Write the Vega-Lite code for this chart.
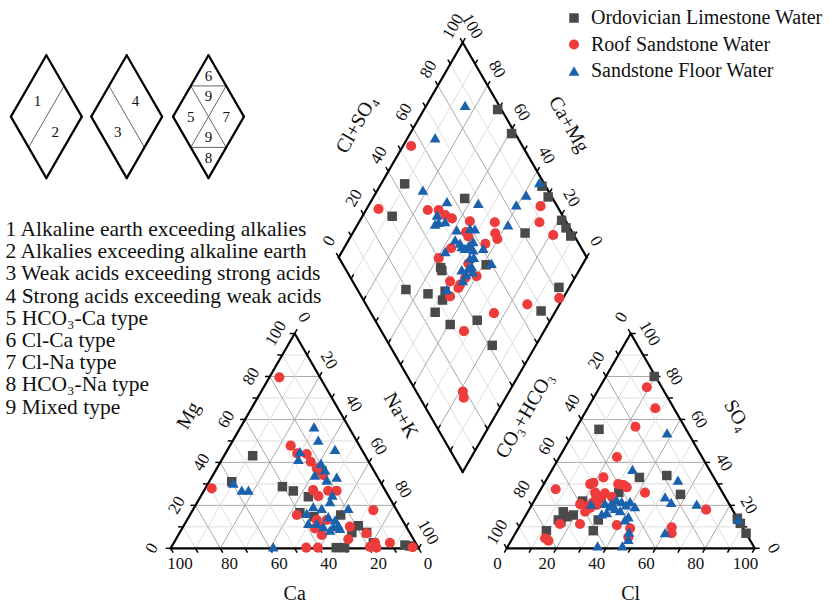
{
"$schema":"https://vega.github.io/schema/vega-lite/v6.json",
"width":836,"height":605,"autosize":{"type":"none"},"padding":0,"background":"#ffffff",
"config":{"view":{"stroke":null},"font":"Liberation Serif",
 "legend":{"orient":"none","legendX":564,"legendY":8,"padding":0,"labelFont":"Liberation Serif","labelFontSize":20,"labelLimit":0,"labelColor":"#111111","symbolSize":110,"rowPadding":6.5,"labelOffset":7}},
"datasets":{
"cation":[
{"w":"O","Ca":45.4,"Mg":43.1},{"w":"O","Ca":59.9,"Mg":31.0},{"w":"O","Ca":40.6,"Mg":28.7},{"w":"O","Ca":37.2,"Mg":26.7},{"w":"O","Ca":32.5,"Mg":24.0},{"w":"O","Ca":21.0,"Mg":36.1},{"w":"O","Ca":39.6,"Mg":16.6},{"w":"O","Ca":34.9,"Mg":14.7},{"w":"O","Ca":23.7,"Mg":15.5},{"w":"O","Ca":19.1,"Mg":10.5},{"w":"O","Ca":23.3,"Mg":7.3},{"w":"O","Ca":33.1,"Mg":0.3},{"w":"O","Ca":29.7,"Mg":0.3},{"w":"O","Ca":17.0,"Mg":2.6},{"w":"O","Ca":4.8,"Mg":1.5},{"w":"O","Ca":3.0,"Mg":1.1},{"w":"O","Ca":17.3,"Mg":7.4},
{"w":"R","Ca":16.4,"Mg":79.6},{"w":"R","Ca":69.5,"Mg":27.9},{"w":"R","Ca":27.7,"Mg":47.8},{"w":"R","Ca":26.9,"Mg":44.2},{"w":"R","Ca":23.2,"Mg":43.9},{"w":"R","Ca":23.4,"Mg":40.3},{"w":"R","Ca":22.5,"Mg":37.2},{"w":"R","Ca":21.4,"Mg":34.1},{"w":"R","Ca":29.0,"Mg":27.1},{"w":"R","Ca":28.3,"Mg":24.3},{"w":"R","Ca":23.1,"Mg":26.8},{"w":"R","Ca":19.7,"Mg":26.8},{"w":"R","Ca":41.4,"Mg":15.5},{"w":"R","Ca":34.5,"Mg":13.2},{"w":"R","Ca":34.7,"Mg":10.1},{"w":"R","Ca":37.2,"Mg":9.3},{"w":"R","Ca":36.0,"Mg":6.2},{"w":"R","Ca":9.4,"Mg":17.8},{"w":"R","Ca":22.7,"Mg":10.1},{"w":"R","Ca":26.3,"Mg":4.2},{"w":"R","Ca":17.5,"Mg":7.0},{"w":"R","Ca":16.3,"Mg":2.6},{"w":"R","Ca":10.3,"Mg":2.6},{"w":"R","Ca":45.2,"Mg":0.3},{"w":"R","Ca":40.5,"Mg":0.3},{"w":"R","Ca":19.3,"Mg":0.7},{"w":"R","Ca":16.9,"Mg":0.3},{"w":"R","Ca":2.2,"Mg":0.5},{"w":"R","Ca":30.5,"Mg":13.2},
{"w":"S","Ca":13.9,"Mg":56.6},{"w":"S","Ca":15.3,"Mg":50.4},{"w":"S","Ca":10.7,"Mg":46.1},{"w":"S","Ca":25.4,"Mg":45.0},{"w":"S","Ca":27.8,"Mg":41.4},{"w":"S","Ca":19.6,"Mg":39.6},{"w":"S","Ca":24.8,"Mg":34.1},{"w":"S","Ca":19.5,"Mg":36.5},{"w":"S","Ca":16.5,"Mg":33.1},{"w":"S","Ca":21.2,"Mg":31.8},{"w":"S","Ca":22.4,"Mg":24.8},{"w":"S","Ca":24.9,"Mg":21.7},{"w":"S","Ca":19.1,"Mg":18.6},{"w":"S","Ca":32.8,"Mg":19.4},{"w":"S","Ca":29.8,"Mg":18.6},{"w":"S","Ca":37.0,"Mg":16.3},{"w":"S","Ca":29.1,"Mg":14.7},{"w":"S","Ca":27.1,"Mg":13.2},{"w":"S","Ca":27.0,"Mg":10.8},{"w":"S","Ca":29.3,"Mg":10.1},{"w":"S","Ca":27.1,"Mg":9.3},{"w":"S","Ca":31.5,"Mg":8.5},{"w":"S","Ca":35.3,"Mg":11.6},{"w":"S","Ca":38.7,"Mg":11.6},{"w":"S","Ca":33.4,"Mg":10.1},{"w":"S","Ca":59.6,"Mg":30.3},{"w":"S","Ca":57.8,"Mg":27.1},{"w":"S","Ca":55.1,"Mg":27.1},{"w":"S","Ca":58.3,"Mg":0.7}
],
"anion":[
{"w":"O","Cl":19.5,"SO4":80.0},{"w":"O","Cl":9.5,"SO4":55.4},{"w":"O","Cl":37.0,"SO4":33.0},{"w":"O","Cl":47.6,"SO4":33.9},{"w":"O","Cl":57.5,"SO4":25.1},{"w":"O","Cl":32.2,"SO4":26.0},{"w":"O","Cl":19.6,"SO4":22.0},{"w":"O","Cl":14.3,"SO4":17.0},{"w":"O","Cl":14.2,"SO4":13.2},{"w":"O","Cl":16.9,"SO4":14.7},{"w":"O","Cl":19.1,"SO4":15.5},{"w":"O","Cl":15.6,"SO4":12.5},{"w":"O","Cl":11.9,"SO4":8.2},{"w":"O","Cl":30.8,"SO4":8.2},{"w":"O","Cl":30.3,"SO4":13.2},{"w":"O","Cl":86.0,"SO4":14.0},{"w":"O","Cl":88.4,"SO4":11.6},{"w":"O","Cl":93.0,"SO4":7.0},
{"w":"R","Cl":19.0,"SO4":75.0},{"w":"R","Cl":27.3,"SO4":65.2},{"w":"R","Cl":23.6,"SO4":56.6},{"w":"R","Cl":23.2,"SO4":42.5},{"w":"R","Cl":6.0,"SO4":27.5},{"w":"R","Cl":22.5,"SO4":33.0},{"w":"R","Cl":18.7,"SO4":29.9},{"w":"R","Cl":19.7,"SO4":30.5},{"w":"R","Cl":22.7,"SO4":25.9},{"w":"R","Cl":26.8,"SO4":25.6},{"w":"R","Cl":30.0,"SO4":29.9},{"w":"R","Cl":32.3,"SO4":29.5},{"w":"R","Cl":34.2,"SO4":28.4},{"w":"R","Cl":42.8,"SO4":25.9},{"w":"R","Cl":71.4,"SO4":18.0},{"w":"R","Cl":19.3,"SO4":20.6},{"w":"R","Cl":22.6,"SO4":19.4},{"w":"R","Cl":23.1,"SO4":17.0},{"w":"R","Cl":15.8,"SO4":11.3},{"w":"R","Cl":23.9,"SO4":11.3},{"w":"R","Cl":13.1,"SO4":4.7},{"w":"R","Cl":15.0,"SO4":3.6},{"w":"R","Cl":39.0,"SO4":10.8},{"w":"R","Cl":45.1,"SO4":9.3},{"w":"R","Cl":46.5,"SO4":5.1},{"w":"R","Cl":61.6,"SO4":9.8},{"w":"R","Cl":63.0,"SO4":7.0},{"w":"R","Cl":24.2,"SO4":23.9},{"w":"R","Cl":26.5,"SO4":23.0},{"w":"R","Cl":23.9,"SO4":21.1},{"w":"R","Cl":26.2,"SO4":20.2},{"w":"R","Cl":24.2,"SO4":18.8},{"w":"R","Cl":30.5,"SO4":23.9},
{"w":"S","Cl":37.8,"SO4":53.7},{"w":"S","Cl":32.3,"SO4":36.8},{"w":"S","Cl":53.2,"SO4":31.7},{"w":"S","Cl":51.9,"SO4":23.9},{"w":"S","Cl":55.6,"SO4":21.4},{"w":"S","Cl":66.3,"SO4":20.6},{"w":"S","Cl":86.6,"SO4":13.4},{"w":"S","Cl":60.2,"SO4":7.3},{"w":"S","Cl":36.1,"SO4":1.1},{"w":"S","Cl":46.1,"SO4":1.1},{"w":"S","Cl":46.9,"SO4":4.2},{"w":"S","Cl":45.5,"SO4":7.6},{"w":"S","Cl":23.7,"SO4":20.6},{"w":"S","Cl":29.2,"SO4":20.9},{"w":"S","Cl":31.7,"SO4":21.2},{"w":"S","Cl":33.1,"SO4":22.5},{"w":"S","Cl":35.5,"SO4":21.7},{"w":"S","Cl":38.9,"SO4":21.7},{"w":"S","Cl":42.0,"SO4":19.4},{"w":"S","Cl":30.3,"SO4":16.0},{"w":"S","Cl":32.0,"SO4":16.6},{"w":"S","Cl":34.4,"SO4":18.6},{"w":"S","Cl":37.0,"SO4":17.5},{"w":"S","Cl":41.7,"SO4":14.7},{"w":"S","Cl":41.1,"SO4":13.2},{"w":"S","Cl":31.8,"SO4":19.7},{"w":"S","Cl":38.0,"SO4":20.2}
],
"diamond":[
{"w":"O","NaK":29.7,"ClSO4":98.5},{"w":"O","NaK":40.9,"ClSO4":98.5},{"w":"O","NaK":9.5,"ClSO4":43.7},{"w":"O","NaK":37.1,"ClSO4":64.5},{"w":"O","NaK":12.0,"ClSO4":31.1},{"w":"O","NaK":65.4,"ClSO4":98.5},{"w":"O","NaK":70.4,"ClSO4":98.5},{"w":"O","NaK":81.3,"ClSO4":98.5},{"w":"O","NaK":84.8,"ClSO4":98.5},{"w":"O","NaK":88.6,"ClSO4":98.5},{"w":"O","NaK":69.5,"ClSO4":80.8},{"w":"O","NaK":43.5,"ClSO4":38.7},{"w":"O","NaK":44.7,"ClSO4":38.5},{"w":"O","NaK":61.2,"ClSO4":57.7},{"w":"O","NaK":34.6,"ClSO4":19.6},{"w":"O","NaK":44.5,"ClSO4":27.5},{"w":"O","NaK":51.8,"ClSO4":31.9},{"w":"O","NaK":50.8,"ClSO4":35.0},{"w":"O","NaK":51.7,"ClSO4":26.1},{"w":"O","NaK":60.6,"ClSO4":29.3},{"w":"O","NaK":70.5,"ClSO4":41.2},{"w":"O","NaK":94.1,"ClSO4":69.1},{"w":"O","NaK":95.8,"ClSO4":81.8},{"w":"O","NaK":82.4,"ClSO4":41.4},
{"w":"R","NaK":3.3,"ClSO4":55.1},{"w":"R","NaK":4.8,"ClSO4":27.3},{"w":"R","NaK":24.9,"ClSO4":46.9},{"w":"R","NaK":29.3,"ClSO4":51.3},{"w":"R","NaK":33.1,"ClSO4":52.8},{"w":"R","NaK":36.6,"ClSO4":54.7},{"w":"R","NaK":44.5,"ClSO4":61.3},{"w":"R","NaK":54.8,"ClSO4":71.1},{"w":"R","NaK":57.5,"ClSO4":68.7},{"w":"R","NaK":59.7,"ClSO4":68.2},{"w":"R","NaK":45.5,"ClSO4":57.2},{"w":"R","NaK":56.0,"ClSO4":62.3},{"w":"R","NaK":43.2,"ClSO4":47.4},{"w":"R","NaK":40.5,"ClSO4":40.1},{"w":"R","NaK":53.7,"ClSO4":50.8},{"w":"R","NaK":69.5,"ClSO4":93.3},{"w":"R","NaK":72.8,"ClSO4":89.1},{"w":"R","NaK":81.3,"ClSO4":91.7},{"w":"R","NaK":60.0,"ClSO4":51.2},{"w":"R","NaK":55.8,"ClSO4":46.1},{"w":"R","NaK":55.3,"ClSO4":42.6},{"w":"R","NaK":50.5,"ClSO4":39.3},{"w":"R","NaK":55.4,"ClSO4":41.1},{"w":"R","NaK":54.0,"ClSO4":35.8},{"w":"R","NaK":47.4,"ClSO4":57.1},{"w":"R","NaK":87.0,"ClSO4":65.1},{"w":"R","NaK":75.6,"ClSO4":49.6},{"w":"R","NaK":67.7,"ClSO4":33.3},{"w":"R","NaK":98.4,"ClSO4":79.4},{"w":"R","NaK":81.3,"ClSO4":18.8},{"w":"R","NaK":83.1,"ClSO4":17.7},
{"w":"S","NaK":15.6,"ClSO4":86.3},{"w":"S","NaK":11.1,"ClSO4":66.7},{"w":"S","NaK":18.3,"ClSO4":49.6},{"w":"S","NaK":30.7,"ClSO4":56.6},{"w":"S","NaK":43.7,"ClSO4":68.8},{"w":"S","NaK":29.8,"ClSO4":49.5},{"w":"S","NaK":32.1,"ClSO4":48.4},{"w":"S","NaK":31.2,"ClSO4":46.6},{"w":"S","NaK":34.6,"ClSO4":51.2},{"w":"S","NaK":41.2,"ClSO4":54.0},{"w":"S","NaK":46.2,"ClSO4":59.7},{"w":"S","NaK":48.3,"ClSO4":61.5},{"w":"S","NaK":42.9,"ClSO4":51.0},{"w":"S","NaK":45.6,"ClSO4":52.2},{"w":"S","NaK":49.7,"ClSO4":54.8},{"w":"S","NaK":48.8,"ClSO4":53.0},{"w":"S","NaK":50.0,"ClSO4":55.8},{"w":"S","NaK":52.5,"ClSO4":56.0},{"w":"S","NaK":41.6,"ClSO4":44.3},{"w":"S","NaK":56.2,"ClSO4":60.4},{"w":"S","NaK":63.0,"ClSO4":60.2},{"w":"S","NaK":60.7,"ClSO4":75.8},{"w":"S","NaK":59.4,"ClSO4":83.8},{"w":"S","NaK":61.1,"ClSO4":90.1},{"w":"S","NaK":63.5,"ClSO4":98.3},{"w":"S","NaK":53.1,"ClSO4":52.7},{"w":"S","NaK":55.7,"ClSO4":51.5},{"w":"S","NaK":54.8,"ClSO4":49.7},{"w":"S","NaK":52.5,"ClSO4":46.7},{"w":"S","NaK":55.4,"ClSO4":47.3},{"w":"S","NaK":57.4,"ClSO4":50.6},{"w":"S","NaK":55.4,"ClSO4":44.6},{"w":"S","NaK":51.1,"ClSO4":36.1},{"w":"S","NaK":54.5,"ClSO4":54.5},{"w":"S","NaK":50.6,"ClSO4":57.9},{"w":"S","NaK":47.1,"ClSO4":52.1}
],
"lines":[
{"plot":"c","f":1,"v":[0,10,20,30,40,50,60,70,80,90,100]},
{"plot":"c","f":2,"v":[0,10,20,30,40,50,60,70,80,90,100]},
{"plot":"c","f":3,"v":[0,10,20,30,40,50,60,70,80,90,100]},
{"plot":"a","f":1,"v":[0,10,20,30,40,50,60,70,80,90,100]},
{"plot":"a","f":2,"v":[0,10,20,30,40,50,60,70,80,90,100]},
{"plot":"a","f":3,"v":[0,10,20,30,40,50,60,70,80,90,100]},
{"plot":"d","f":1,"v":[0,10,20,30,40,50,60,70,80,90,100]},
{"plot":"d","f":2,"v":[0,10,20,30,40,50,60,70,80,90,100]}
],
"edges":[
{"e":"cb","t":"Ca","v":[0,10,20,30,40,50,60,70,80,90,100]},
{"e":"cl","t":"Mg","v":[0,10,20,30,40,50,60,70,80,90,100]},
{"e":"cr","t":"Na+K","v":[0,10,20,30,40,50,60,70,80,90,100]},
{"e":"ab","t":"Cl","v":[0,10,20,30,40,50,60,70,80,90,100]},
{"e":"al","t":"CO₃+HCO₃","v":[0,10,20,30,40,50,60,70,80,90,100]},
{"e":"ar","t":"SO₄","v":[0,10,20,30,40,50,60,70,80,90,100]},
{"e":"dl","t":"Cl+SO₄","v":[0,10,20,30,40,50,60,70,80,90,100]},
{"e":"dr","t":"Ca+Mg","v":[0,10,20,30,40,50,60,70,80,90,100]},
{"e":"dll","t":"","v":[0,10,20,30,40,50,60,70,80,90,100]},
{"e":"dlr","t":"","v":[0,10,20,30,40,50,60,70,80,90,100]}
],
"keys":[
{"k":[1,2,3],"kind":"o","p1":0,"q1":0,"p2":100,"q2":0},
{"k":[1,2,3],"kind":"o","p1":0,"q1":100,"p2":100,"q2":100},
{"k":[1,2,3],"kind":"o","p1":0,"q1":0,"p2":0,"q2":100},
{"k":[1,2,3],"kind":"o","p1":100,"q1":0,"p2":100,"q2":100},
{"k":[1,3],"kind":"i","p1":50,"q1":0,"p2":50,"q2":100},
{"k":[2,3],"kind":"i","p1":0,"q1":50,"p2":100,"q2":50},
{"k":[3],"kind":"i","p1":0,"q1":50,"p2":50,"q2":100},
{"k":[3],"kind":"i","p1":50,"q1":0,"p2":100,"q2":50},
{"k":[1],"kind":"t","t":"1","p1":25,"q1":50,"p2":25,"q2":50},
{"k":[1],"kind":"t","t":"2","p1":75,"q1":50,"p2":75,"q2":50},
{"k":[2],"kind":"t","t":"4","p1":50,"q1":75,"p2":50,"q2":75},
{"k":[2],"kind":"t","t":"3","p1":50,"q1":25,"p2":50,"q2":25},
{"k":[3],"kind":"t","t":"6","p1":16.7,"q1":83.3,"p2":16.7,"q2":83.3},
{"k":[3],"kind":"t","t":"9","p1":33.3,"q1":66.7,"p2":33.3,"q2":66.7},
{"k":[3],"kind":"t","t":"5","p1":25,"q1":25,"p2":25,"q2":25},
{"k":[3],"kind":"t","t":"7","p1":75,"q1":75,"p2":75,"q2":75},
{"k":[3],"kind":"t","t":"9","p1":66.7,"q1":33.3,"p2":66.7,"q2":33.3},
{"k":[3],"kind":"t","t":"8","p1":83.3,"q1":16.7,"p2":83.3,"q2":16.7}
],
"notes":[
{"t":"1 Alkaline earth exceeding alkalies\n2 Alkalies exceeding alkaline earth\n3 Weak acids exceeding strong acids\n4 Strong acids exceeding weak acids\n5 HCO₃-Ca type\n6 Cl-Ca type\n7 Cl-Na type\n8 HCO₃-Na type\n9 Mixed type"}
]
},
"layer":[
{"data":{"name":"lines"},
 "transform":[
  {"flatten":["v"]},
  {"calculate":"datum.f==1 ? 0 : datum.f==2 ? datum.v : 100-datum.v","as":"p1"},
  {"calculate":"datum.f==1 ? datum.v : 0","as":"q1"},
  {"calculate":"datum.f==1 ? (datum.plot=='d' ? 100 : 100-datum.v) : datum.f==2 ? datum.v : 0","as":"p2"},
  {"calculate":"datum.f==1 ? datum.v : (datum.f==2 && datum.plot=='d') ? 100 : 100-datum.v","as":"q2"},
  {"calculate":"datum.plot=='c' ? datum.p1+datum.q1/2 : datum.plot=='a' ? 135.5+datum.p1+datum.q1/2 : 67.75+(datum.p1+datum.q1)/2","as":"x"},
  {"calculate":"datum.plot=='d' ? 117.3425+0.8660254*(datum.q1-datum.p1) : 0.8660254*datum.q1","as":"y"},
  {"calculate":"datum.plot=='c' ? datum.p2+datum.q2/2 : datum.plot=='a' ? 135.5+datum.p2+datum.q2/2 : 67.75+(datum.p2+datum.q2)/2","as":"x2"},
  {"calculate":"datum.plot=='d' ? 117.3425+0.8660254*(datum.q2-datum.p2) : 0.8660254*datum.q2","as":"y2"}
 ],
 "layer":[
  {"transform":[{"filter":"datum.v>0 && datum.v<100"}],
   "mark":{"type":"rule","strokeWidth":1},
   "encoding":{
    "x":{"field":"x","type":"quantitative","scale":{"domain":[-68.83,268.27],"nice":false,"zero":false},"axis":null},
    "y":{"field":"y","type":"quantitative","scale":{"domain":[-22.86,221.09],"nice":false,"zero":false},"axis":null},
    "x2":{"field":"x2"},"y2":{"field":"y2"},
    "stroke":{"condition":{"test":"datum.v % 20 == 0","value":"#a9a9a9"},"value":"#dedede"}}},
  {"transform":[{"filter":"datum.v==0 || (datum.plot=='d' && datum.v==100)"}],
   "mark":{"type":"rule","strokeWidth":2.2,"color":"#000000","strokeCap":"round"},
   "encoding":{
    "x":{"field":"x","type":"quantitative","scale":{"domain":[-68.83,268.27],"nice":false,"zero":false},"axis":null},
    "y":{"field":"y","type":"quantitative","scale":{"domain":[-22.86,221.09],"nice":false,"zero":false},"axis":null},
    "x2":{"field":"x2"},"y2":{"field":"y2"}}}
 ]},
{"data":{"name":"edges"},
 "transform":[
  {"flatten":["v"]},
  {"calculate":"substring(datum.e,0,1)","as":"plot"},
  {"calculate":"indexof(['cb','ar','dr'],datum.e)>=0 ? 100-datum.v : indexof(['cr','ab','dll'],datum.e)>=0 ? datum.v : datum.e=='dlr' ? 100 : 0","as":"p"},
  {"calculate":"indexof(['cl','ar','dl','dlr'],datum.e)>=0 ? datum.v : indexof(['cr','al'],datum.e)>=0 ? 100-datum.v : datum.e=='dr' ? 100 : 0","as":"q"},
  {"calculate":"datum.plot=='c' ? datum.p+datum.q/2 : datum.plot=='a' ? 135.5+datum.p+datum.q/2 : 67.75+(datum.p+datum.q)/2","as":"x"},
  {"calculate":"datum.plot=='d' ? 117.3425+0.8660254*(datum.q-datum.p) : 0.8660254*datum.q","as":"y"},
  {"calculate":"indexof(['cb','cr','dr','dll'],datum.e)>=0 ? 0.5 : indexof(['ab','al','dl','dlr'],datum.e)>=0 ? -0.5 : datum.e=='cl' ? -1 : 1","as":"tx"},
  {"calculate":"indexof(['cb','ab'],datum.e)>=0 ? -0.8660254 : indexof(['cl','ar'],datum.e)>=0 ? 0 : 0.8660254","as":"ty"},
  {"calculate":"indexof(['cl','al','dl'],datum.e)>=0 ? -0.8660254 : indexof(['cr','ar','dr'],datum.e)>=0 ? 0.8660254 : 0","as":"nx"},
  {"calculate":"indexof(['cb','ab'],datum.e)>=0 ? -1 : 0.5","as":"ny"},
  {"calculate":"indexof(['cb','ab'],datum.e)>=0 ? 18.6 : 20.5","as":"hd"},
  {"calculate":"datum.x+2*datum.tx","as":"x2"},
  {"calculate":"datum.y+2*datum.ty","as":"y2"},
  {"calculate":"datum.x+7.5*datum.tx","as":"lx"},
  {"calculate":"datum.y+7.5*datum.ty","as":"ly"},
  {"calculate":"datum.x+datum.hd*datum.nx","as":"hx"},
  {"calculate":"datum.y+datum.hd*datum.ny","as":"hy"}
 ],
 "layer":[
  {"mark":{"type":"rule","strokeWidth":1.5,"color":"#000000"},
   "encoding":{
    "x":{"field":"x","type":"quantitative","scale":{"domain":[-68.83,268.27],"nice":false,"zero":false},"axis":null},
    "y":{"field":"y","type":"quantitative","scale":{"domain":[-22.86,221.09],"nice":false,"zero":false},"axis":null},
    "x2":{"field":"x2"},"y2":{"field":"y2"}}},
  {"transform":[{"filter":"indexof(['cb','ab'],datum.e)>=0 && datum.v % 20 == 0"}],
   "mark":{"type":"text","fontSize":17,"color":"#111111","align":"center","baseline":"middle"},
   "encoding":{
    "x":{"field":"lx","type":"quantitative","scale":{"domain":[-68.83,268.27],"nice":false,"zero":false},"axis":null},
    "y":{"field":"ly","type":"quantitative","scale":{"domain":[-22.86,221.09],"nice":false,"zero":false},"axis":null},
    "text":{"field":"v","type":"quantitative"}}},
  {"transform":[{"filter":"indexof(['cl','al','dl'],datum.e)>=0 && datum.v % 20 == 0"}],
   "mark":{"type":"text","fontSize":17,"color":"#111111","align":"center","baseline":"middle","angle":300},
   "encoding":{
    "x":{"field":"lx","type":"quantitative","scale":{"domain":[-68.83,268.27],"nice":false,"zero":false},"axis":null},
    "y":{"field":"ly","type":"quantitative","scale":{"domain":[-22.86,221.09],"nice":false,"zero":false},"axis":null},
    "text":{"field":"v","type":"quantitative"}}},
  {"transform":[{"filter":"indexof(['cr','ar','dr'],datum.e)>=0 && datum.v % 20 == 0"}],
   "mark":{"type":"text","fontSize":17,"color":"#111111","align":"center","baseline":"middle","angle":60},
   "encoding":{
    "x":{"field":"lx","type":"quantitative","scale":{"domain":[-68.83,268.27],"nice":false,"zero":false},"axis":null},
    "y":{"field":"ly","type":"quantitative","scale":{"domain":[-22.86,221.09],"nice":false,"zero":false},"axis":null},
    "text":{"field":"v","type":"quantitative"}}},
  {"transform":[{"filter":"indexof(['cb','ab'],datum.e)>=0 && datum.v == 50"}],
   "mark":{"type":"text","fontSize":20,"color":"#111111","align":"center","baseline":"middle"},
   "encoding":{
    "x":{"field":"hx","type":"quantitative","scale":{"domain":[-68.83,268.27],"nice":false,"zero":false},"axis":null},
    "y":{"field":"hy","type":"quantitative","scale":{"domain":[-22.86,221.09],"nice":false,"zero":false},"axis":null},
    "text":{"field":"t"}}},
  {"transform":[{"filter":"indexof(['cl','al','dl'],datum.e)>=0 && datum.v == 50"}],
   "mark":{"type":"text","fontSize":20,"color":"#111111","align":"center","baseline":"middle","angle":300},
   "encoding":{
    "x":{"field":"hx","type":"quantitative","scale":{"domain":[-68.83,268.27],"nice":false,"zero":false},"axis":null},
    "y":{"field":"hy","type":"quantitative","scale":{"domain":[-22.86,221.09],"nice":false,"zero":false},"axis":null},
    "text":{"field":"t"}}},
  {"transform":[{"filter":"indexof(['cr','ar','dr'],datum.e)>=0 && datum.v == 50"}],
   "mark":{"type":"text","fontSize":20,"color":"#111111","align":"center","baseline":"middle","angle":60},
   "encoding":{
    "x":{"field":"hx","type":"quantitative","scale":{"domain":[-68.83,268.27],"nice":false,"zero":false},"axis":null},
    "y":{"field":"hy","type":"quantitative","scale":{"domain":[-22.86,221.09],"nice":false,"zero":false},"axis":null},
    "text":{"field":"t"}}}
 ]},
{"data":{"name":"keys"},
 "transform":[
  {"flatten":["k"]},
  {"calculate":"datum.k==1 ? -50.14 : datum.k==2 ? -17.74 : 15.24","as":"cx"},
  {"calculate":"datum.cx+((datum.p1+datum.q1)/2-50)*0.286","as":"x"},
  {"calculate":"174.05+0.8660254*(datum.q1-datum.p1)*0.286","as":"y"},
  {"calculate":"datum.cx+((datum.p2+datum.q2)/2-50)*0.286","as":"x2"},
  {"calculate":"174.05+0.8660254*(datum.q2-datum.p2)*0.286","as":"y2"}
 ],
 "layer":[
  {"transform":[{"filter":"datum.kind=='i'"}],
   "mark":{"type":"rule","strokeWidth":1,"color":"#666666"},
   "encoding":{
    "x":{"field":"x","type":"quantitative","scale":{"domain":[-68.83,268.27],"nice":false,"zero":false},"axis":null},
    "y":{"field":"y","type":"quantitative","scale":{"domain":[-22.86,221.09],"nice":false,"zero":false},"axis":null},
    "x2":{"field":"x2"},"y2":{"field":"y2"}}},
  {"transform":[{"filter":"datum.kind=='o'"}],
   "mark":{"type":"rule","strokeWidth":2.2,"color":"#000000","strokeCap":"round"},
   "encoding":{
    "x":{"field":"x","type":"quantitative","scale":{"domain":[-68.83,268.27],"nice":false,"zero":false},"axis":null},
    "y":{"field":"y","type":"quantitative","scale":{"domain":[-22.86,221.09],"nice":false,"zero":false},"axis":null},
    "x2":{"field":"x2"},"y2":{"field":"y2"}}},
  {"transform":[{"filter":"datum.kind=='t'"}],
   "mark":{"type":"text","fontSize":15,"color":"#111111","align":"center","baseline":"middle"},
   "encoding":{
    "x":{"field":"x","type":"quantitative","scale":{"domain":[-68.83,268.27],"nice":false,"zero":false},"axis":null},
    "y":{"field":"y","type":"quantitative","scale":{"domain":[-22.86,221.09],"nice":false,"zero":false},"axis":null},
    "text":{"field":"t"}}}
 ]},
{"data":{"name":"notes"},
 "mark":{"type":"text","fontSize":21.5,"color":"#111111","align":"left","baseline":"top","lineBreak":"\n","lineHeight":22.2},
 "encoding":{
  "x":{"datum":-66.6,"type":"quantitative","scale":{"domain":[-68.83,268.27],"nice":false,"zero":false},"axis":null},
  "y":{"datum":132.8,"type":"quantitative","scale":{"domain":[-22.86,221.09],"nice":false,"zero":false},"axis":null},
  "text":{"field":"t"}}},
{"data":{"name":"cation"},
 "transform":[{"calculate":"100-datum.Ca-datum.Mg","as":"NaK"},{"calculate":"datum.NaK+datum.Mg/2","as":"x"},{"calculate":"0.8660254*datum.Mg","as":"y"}],
 "mark":{"type":"point","filled":true,"opacity":1},
 "encoding":{
  "x":{"field":"x","type":"quantitative","scale":{"domain":[-68.83,268.27],"nice":false,"zero":false},"axis":null},
  "y":{"field":"y","type":"quantitative","scale":{"domain":[-22.86,221.09],"nice":false,"zero":false},"axis":null},
  "color":{"field":"w","type":"nominal","scale":{"domain":["O","R","S"],"range":["#4a4a4a","#ee3b3b","#1a62ad"]},"legend":{"title":null,"labelExpr":"datum.label=='O' ? 'Ordovician Limestone Water' : datum.label=='R' ? 'Roof Sandstone Water' : 'Sandstone Floor Water'"}},
  "shape":{"field":"w","type":"nominal","scale":{"domain":["O","R","S"],"range":["square","circle","triangle-up"]},"legend":{"title":null,"labelExpr":"datum.label=='O' ? 'Ordovician Limestone Water' : datum.label=='R' ? 'Roof Sandstone Water' : 'Sandstone Floor Water'"}},
  "size":{"field":"w","type":"nominal","scale":{"domain":["O","R","S"],"range":[90,115,135]},"legend":null}}},
{"data":{"name":"anion"},
 "transform":[{"calculate":"135.5+datum.Cl+datum.SO4/2","as":"x"},{"calculate":"0.8660254*datum.SO4","as":"y"}],
 "mark":{"type":"point","filled":true,"opacity":1},
 "encoding":{
  "x":{"field":"x","type":"quantitative","scale":{"domain":[-68.83,268.27],"nice":false,"zero":false},"axis":null},
  "y":{"field":"y","type":"quantitative","scale":{"domain":[-22.86,221.09],"nice":false,"zero":false},"axis":null},
  "color":{"field":"w","type":"nominal","scale":{"domain":["O","R","S"],"range":["#4a4a4a","#ee3b3b","#1a62ad"]},"legend":{"title":null,"labelExpr":"datum.label=='O' ? 'Ordovician Limestone Water' : datum.label=='R' ? 'Roof Sandstone Water' : 'Sandstone Floor Water'"}},
  "shape":{"field":"w","type":"nominal","scale":{"domain":["O","R","S"],"range":["square","circle","triangle-up"]},"legend":{"title":null,"labelExpr":"datum.label=='O' ? 'Ordovician Limestone Water' : datum.label=='R' ? 'Roof Sandstone Water' : 'Sandstone Floor Water'"}},
  "size":{"field":"w","type":"nominal","scale":{"domain":["O","R","S"],"range":[90,115,135]},"legend":null}}},
{"data":{"name":"diamond"},
 "transform":[{"calculate":"67.75+(datum.NaK+datum.ClSO4)/2","as":"x"},{"calculate":"117.3425+0.8660254*(datum.ClSO4-datum.NaK)","as":"y"}],
 "mark":{"type":"point","filled":true,"opacity":1},
 "encoding":{
  "x":{"field":"x","type":"quantitative","scale":{"domain":[-68.83,268.27],"nice":false,"zero":false},"axis":null},
  "y":{"field":"y","type":"quantitative","scale":{"domain":[-22.86,221.09],"nice":false,"zero":false},"axis":null},
  "color":{"field":"w","type":"nominal","scale":{"domain":["O","R","S"],"range":["#4a4a4a","#ee3b3b","#1a62ad"]},"legend":{"title":null,"labelExpr":"datum.label=='O' ? 'Ordovician Limestone Water' : datum.label=='R' ? 'Roof Sandstone Water' : 'Sandstone Floor Water'"}},
  "shape":{"field":"w","type":"nominal","scale":{"domain":["O","R","S"],"range":["square","circle","triangle-up"]},"legend":{"title":null,"labelExpr":"datum.label=='O' ? 'Ordovician Limestone Water' : datum.label=='R' ? 'Roof Sandstone Water' : 'Sandstone Floor Water'"}},
  "size":{"field":"w","type":"nominal","scale":{"domain":["O","R","S"],"range":[90,115,135]},"legend":null}}}
]
}
